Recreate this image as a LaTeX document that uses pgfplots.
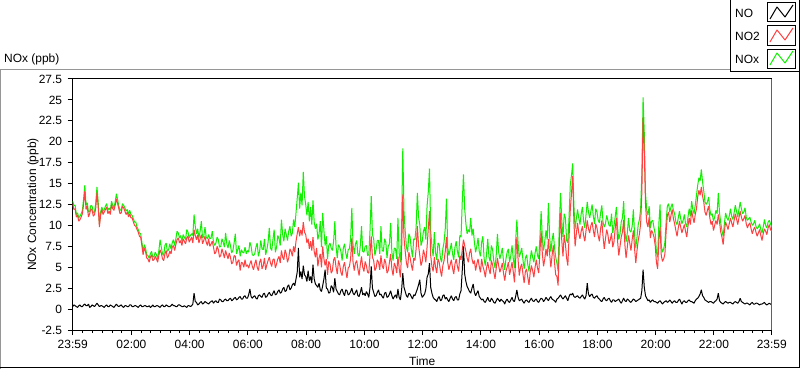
\documentclass[border=0pt]{standalone}
\usepackage{fontspec}
\setmainfont{Liberation Sans}
\usepackage{pgfplots}
\pgfplotsset{compat=1.18}
\usepackage{pgfplotstable}
\definecolor{nored}{RGB}{255,64,64}
\definecolor{nogreen}{RGB}{16,240,0}
\definecolor{framegray}{RGB}{150,150,150}
\pgfplotstableread{
t no no2 nox
-1 0.3 12.6 12.9
1.5 0.5 11.9 12.4
4 0.4 12.0 12.4
6.5 0.3 11.0 11.3
9 0.2 11.2 11.5
11.5 0.4 10.5 10.9
14 0.5 10.7 11.1
16.5 0.3 11.0 11.4
19 0.3 11.4 11.8
21.5 0.5 12.6 13.2
24 0.6 14.1 14.8
26.5 0.4 11.9 12.4
29 0.4 12.3 12.7
31.5 0.6 11.0 11.6
34 0.2 11.4 11.7
36.5 0.3 12.0 12.4
39 0.5 11.8 12.3
41.5 0.4 11.1 11.5
44 0.3 11.3 11.6
46.5 0.5 12.1 12.7
49 0.7 13.9 14.6
51.5 0.5 12.2 12.8
54 0.3 9.8 10.2
56.5 0.4 11.2 11.6
59 0.4 11.9 12.2
61.5 0.3 11.3 11.7
64 0.2 11.6 11.9
66.5 0.4 11.9 12.3
69 0.5 12.2 12.6
71.5 0.3 11.4 11.8
74 0.3 11.7 12.1
76.5 0.5 11.3 11.8
79 0.4 12.5 12.9
81.5 0.3 12.0 12.4
84 0.2 11.8 12.1
86.5 0.4 12.4 12.8
89 0.6 13.2 13.8
91.5 0.4 12.6 13.1
94 0.3 12.0 12.3
96.5 0.4 11.4 11.8
99 0.5 11.5 11.9
101.5 0.3 12.3 12.6
104 0.2 12.1 12.4
106.5 0.4 11.7 12.1
109 0.4 11.3 11.7
111.5 0.3 11.6 11.9
114 0.3 11.0 11.3
116.5 0.5 11.4 11.8
119 0.5 10.9 11.3
121.5 0.3 10.9 11.2
124 0.3 10.4 10.8
126.5 0.4 10.0 10.4
129 0.4 9.9 10.4
131.5 0.3 9.5 9.8
134 0.2 9.2 9.5
136.5 0.4 8.7 9.1
139 0.5 8.6 9.0
141.5 0.3 7.6 8.0
144 0.3 6.5 6.9
146.5 0.4 7.3 7.7
149 0.4 6.9 7.3
151.5 0.3 6.1 6.5
154 0.3 6.0 6.4
156.5 0.4 5.6 6.1
159 0.2 6.2 6.6
161.5 0.3 6.5 6.9
164 0.5 5.8 6.2
166.5 0.3 5.9 6.3
169 0.3 6.3 6.8
171.5 0.4 6.0 6.5
174 0.4 5.6 6.0
176.5 0.3 6.4 7.0
179 0.2 7.1 8.3
181.5 0.4 6.7 7.4
184 0.5 6.0 6.6
186.5 0.3 5.8 6.4
189 0.3 6.6 7.6
191.5 0.5 7.0 7.9
194 0.4 6.1 6.9
196.5 0.3 6.4 7.1
199 0.3 6.9 7.8
201.5 0.4 6.6 7.2
204 0.6 7.4 7.9
206.5 0.4 7.6 8.3
209 0.4 7.0 7.6
211.5 0.3 7.7 8.4
214 0.3 8.3 9.3
216.5 0.5 8.5 9.1
219 0.5 7.9 8.5
221.5 0.4 8.2 8.8
224 0.3 7.6 8.1
226.5 0.3 8.4 8.9
229 0.4 8.1 8.6
231.5 0.3 7.8 8.3
234 0.2 8.5 9.5
236.5 0.4 8.7 9.2
239 0.4 8.0 8.5
241.5 0.3 8.3 8.8
244 0.4 8.6 9.0
246.5 0.6 7.9 8.8
249 1.9 9.5 11.3
251.5 0.9 8.8 9.9
254 0.8 8.3 9.0
256.5 0.5 8.9 9.6
259 0.6 7.9 8.5
261.5 0.8 8.4 9.3
264 0.9 8.9 10.5
266.5 0.6 7.8 8.5
269 0.7 8.2 8.7
271.5 0.9 8.7 9.8
274 0.8 8.0 8.6
276.5 0.7 7.6 8.4
279 0.6 8.4 8.9
281.5 0.8 7.5 8.4
284 0.9 7.8 8.5
286.5 1.0 8.1 9.3
289 0.7 7.4 8.0
291.5 0.9 6.6 7.6
294 1.0 6.8 7.9
296.5 0.8 7.5 8.6
299 0.8 7.1 8.3
301.5 1.2 6.2 7.4
304 1.1 6.4 7.5
306.5 0.9 7.2 8.4
309 0.9 6.7 8.0
311.5 1.1 6.1 7.4
314 1.2 7.0 9.1
316.5 1.0 6.5 7.8
319 1.0 6.0 7.3
321.5 1.2 6.7 8.2
324 1.3 6.2 7.6
326.5 1.0 5.4 6.7
329 1.1 5.6 7.0
331.5 1.3 6.4 7.9
334 1.4 6.3 9.0
336.5 1.1 5.2 6.6
339 1.2 5.7 7.1
341.5 1.4 5.9 7.6
344 1.5 4.6 6.3
346.5 1.2 5.6 7.1
349 1.2 5.5 6.8
351.5 1.5 5.0 6.7
354 1.6 5.9 7.4
356.5 1.3 5.1 6.6
359 1.3 5.3 7.0
361.5 1.7 4.9 6.8
364 2.4 5.4 8.0
366.5 1.5 5.8 7.5
369 1.3 5.1 6.5
371.5 1.5 4.7 6.4
374 1.6 5.4 6.6
376.5 1.3 5.9 7.4
379 1.2 5.0 7.9
381.5 1.6 4.6 6.3
384 1.7 5.6 6.9
386.5 1.5 6.0 8.2
389 1.4 4.8 7.2
391.5 1.8 5.2 7.1
394 1.9 6.1 8.4
396.5 1.4 4.7 6.5
399 1.5 5.3 7.1
401.5 1.8 5.8 8.0
404 2.0 6.2 9.7
406.5 1.7 5.5 7.3
409 1.6 5.1 7.0
411.5 1.9 5.9 8.3
414 2.2 6.0 9.5
416.5 1.7 4.9 6.8
419 1.8 5.4 7.4
421.5 2.1 6.0 8.8
424 2.3 6.3 8.4
426.5 1.9 5.5 7.6
429 2.0 7.0 10.7
431.5 2.4 6.2 8.9
434 2.6 5.9 8.1
436.5 2.1 7.1 9.6
439 2.2 6.6 8.9
441.5 2.7 5.6 8.2
444 2.9 6.1 9.3
446.5 2.3 7.2 9.9
449 2.5 6.9 8.7
451.5 2.9 6.3 9.1
454 3.1 7.5 10.7
456.5 2.8 6.8 9.8
459 3.6 8.1 11.5
461.5 4.4 9.0 13.2
464 7.3 9.8 15.1
466.5 3.8 8.7 12.0
469 4.5 9.5 13.9
471.5 3.6 8.8 12.4
474 5.2 10.4 16.4
476.5 4.1 9.2 13.5
479 3.9 8.9 12.5
481.5 3.3 7.9 11.2
484 4.6 8.4 12.8
486.5 3.4 7.2 10.5
489 3.9 8.1 12.2
491.5 3.1 7.0 10.1
494 5.3 8.6 13.0
496.5 3.6 6.9 10.4
499 3.0 6.2 9.6
501.5 2.8 7.3 10.2
504 2.6 5.1 8.3
506.5 3.1 6.1 9.0
509 2.3 6.6 10.5
511.5 2.1 5.0 7.4
514 2.8 7.5 11.5
516.5 3.6 6.0 9.4
519 4.7 5.2 7.6
521.5 2.5 6.0 8.7
524 2.4 4.1 6.0
526.5 1.9 5.7 7.6
529 2.0 5.4 7.9
531.5 2.8 4.3 7.3
534 2.6 4.6 7.0
536.5 2.0 5.9 8.1
539 3.7 6.2 10.5
541.5 2.4 5.0 7.5
544 2.1 4.2 6.1
546.5 1.8 5.8 7.7
549 1.7 5.3 7.4
551.5 2.2 4.4 6.9
554 2.4 4.0 5.8
556.5 1.9 5.1 7.3
559 1.6 5.6 7.8
561.5 2.3 4.6 6.7
564 2.2 3.7 6.0
566.5 1.7 4.9 7.1
569 1.8 5.1 7.2
571.5 2.1 6.0 8.4
574 2.5 8.5 12.1
576.5 1.9 5.6 7.7
579 1.7 4.6 6.6
581.5 2.0 5.5 7.8
584 2.3 5.8 8.2
586.5 1.6 4.8 6.5
589 1.5 4.0 6.3
591.5 2.0 5.3 7.6
594 2.6 6.3 9.9
596.5 1.7 5.0 6.9
599 1.9 4.5 6.8
601.5 1.6 5.7 7.5
604 2.1 5.2 7.6
606.5 1.8 4.4 6.4
609 1.4 4.3 6.5
611.5 2.6 6.5 9.4
614 5.1 8.7 13.5
616.5 2.5 6.2 8.9
619 2.0 5.8 8.4
621.5 1.5 4.6 6.4
624 1.6 4.9 7.1
626.5 2.0 5.9 8.2
629 2.3 5.6 8.2
631.5 1.7 4.7 6.6
634 1.8 6.4 9.9
636.5 1.5 5.2 7.0
639 1.3 4.8 6.9
641.5 1.9 6.0 8.4
644 2.0 5.5 8.0
646.5 1.4 4.3 6.1
649 1.5 4.6 7.5
651.5 1.8 5.6 7.8
654 2.2 6.6 10.3
656.5 1.6 4.8 6.8
659 1.2 4.0 5.8
661.5 1.5 5.5 7.3
664 1.7 5.1 7.2
666.5 1.3 4.3 6.0
669 2.4 6.3 10.9
671.5 1.4 4.9 6.7
674 1.1 3.8 5.6
676.5 2.2 6.6 9.4
679 4.3 13.7 19.2
681.5 2.6 8.5 11.6
684 2.1 6.9 9.3
686.5 1.6 5.5 7.4
689 1.4 4.9 6.8
691.5 1.9 6.8 9.0
694 1.8 6.2 8.6
696.5 1.5 5.3 7.2
699 1.2 4.6 6.2
701.5 1.7 6.1 8.4
704 1.6 5.8 8.3
706.5 2.0 7.2 9.8
709 2.4 9.9 13.9
711.5 2.9 7.6 11.0
714 3.5 6.4 10.1
716.5 1.9 5.2 7.6
719 1.4 5.7 8.1
721.5 1.6 7.1 9.3
724 1.8 6.5 9.8
726.5 2.4 5.6 8.3
729 3.8 7.4 12.3
731.5 4.2 9.6 14.0
734 5.5 11.7 16.8
736.5 2.6 6.4 9.4
739 1.9 5.1 7.5
741.5 1.4 4.5 6.3
744 1.2 6.2 9.2
746.5 1.1 5.0 6.7
749 0.9 4.3 5.9
751.5 1.3 6.0 7.9
754 1.5 5.6 7.7
756.5 1.0 4.6 6.1
759 1.1 3.9 5.6
761.5 1.6 5.2 7.2
764 1.7 5.8 8.0
766.5 1.2 6.9 9.6
769 1.4 8.6 13.2
771.5 1.1 5.6 7.4
774 0.9 4.7 6.4
776.5 1.3 5.3 7.1
779 1.6 5.9 7.9
781.5 1.2 4.9 6.6
784 1.0 4.2 5.9
786.5 1.4 5.4 7.4
789 1.5 6.0 8.1
791.5 1.1 5.1 6.9
794 1.1 4.5 6.2
796.5 1.8 6.4 8.8
799 2.2 5.9 8.6
801.5 4.6 7.1 12.8
804 7.5 8.3 16.1
806.5 4.2 7.6 12.0
809 3.3 6.9 10.2
811.5 2.7 6.1 9.0
814 2.4 5.6 9.5
816.5 2.1 6.7 9.2
819 1.9 7.2 10.9
821.5 2.5 6.0 8.8
824 3.0 5.4 9.6
826.5 2.0 5.8 8.0
829 1.6 4.6 6.8
831.5 1.9 5.4 7.5
834 2.2 6.0 8.5
836.5 1.5 5.1 6.9
839 1.3 4.4 6.3
841.5 1.1 6.0 8.0
844 1.2 5.1 8.7
846.5 0.9 4.6 6.0
849 0.8 3.8 5.2
851.5 1.1 4.9 6.5
854 1.4 5.6 8.4
856.5 1.0 4.8 6.2
859 0.9 4.2 5.7
861.5 1.3 5.8 7.6
864 1.1 5.3 7.1
866.5 0.8 4.4 5.7
869 0.7 3.6 4.9
871.5 1.0 4.9 6.5
874 1.3 6.1 9.0
876.5 1.1 5.2 6.8
879 0.9 4.4 6.0
881.5 1.2 4.9 6.6
884 1.0 5.5 7.3
886.5 0.9 4.3 5.7
889 0.6 3.4 4.7
891.5 1.0 4.5 6.0
894 1.2 5.0 6.8
896.5 0.9 5.6 7.2
899 0.8 4.1 5.6
901.5 1.1 4.8 6.4
904 1.4 5.6 7.6
906.5 1.0 4.5 6.1
909 0.9 3.2 4.9
911.5 1.5 5.8 8.2
914 2.3 8.6 10.7
916.5 1.4 5.9 7.9
919 1.0 4.0 6.2
921.5 1.1 5.0 6.7
924 1.2 5.4 7.3
926.5 0.9 4.2 5.9
929 0.7 3.1 4.8
931.5 1.0 4.5 6.1
934 1.1 4.8 6.5
936.5 0.9 3.8 5.3
939 0.8 2.9 4.5
941.5 1.1 4.4 6.0
944 1.3 5.2 7.0
946.5 1.0 4.6 6.2
949 0.9 3.8 5.6
951.5 1.1 5.0 6.7
954 1.2 5.9 7.5
956.5 0.9 4.9 6.4
959 0.8 4.3 6.0
961.5 1.1 6.8 8.6
964 1.3 9.3 11.7
966.5 1.2 6.6 8.4
969 0.9 5.1 7.0
971.5 1.1 6.0 8.1
974 1.4 7.2 9.4
976.5 1.2 6.3 8.3
979 1.0 8.4 12.7
981.5 1.3 6.6 8.7
984 1.5 5.0 6.8
986.5 1.2 6.4 8.2
989 1.1 7.6 9.1
991.5 1.0 5.6 7.4
994 0.8 4.1 6.2
996.5 1.2 3.9 5.5
999 1.3 2.8 4.5
1001.5 1.5 7.9 10.2
1004 1.7 11.5 13.9
1006.5 1.4 8.2 10.6
1009 1.2 6.3 8.6
1011.5 1.4 8.9 11.4
1014 1.6 7.8 10.9
1016.5 1.3 6.1 8.2
1019 1.0 5.2 7.9
1021.5 1.5 8.6 11.0
1024 1.8 11.8 14.8
1026.5 1.7 13.8 16.0
1029 1.9 15.9 17.4
1031.5 1.5 10.4 12.3
1034 1.4 7.5 9.6
1036.5 1.5 9.0 10.8
1039 1.6 10.3 11.9
1041.5 1.4 9.1 10.9
1044 1.3 8.4 10.1
1046.5 1.5 9.3 11.4
1049 1.7 9.9 12.2
1051.5 1.4 8.8 10.5
1054 1.2 8.1 9.7
1056.5 1.6 9.4 11.3
1059 3.1 10.6 12.8
1061.5 1.8 9.6 11.6
1064 1.5 9.1 10.9
1066.5 1.7 10.0 11.7
1069 1.8 10.4 12.5
1071.5 1.4 9.4 11.1
1074 1.3 8.6 10.2
1076.5 1.5 10.2 12.0
1079 1.6 9.7 11.6
1081.5 1.3 8.8 10.6
1084 1.2 8.1 10.3
1086.5 1.0 9.6 11.5
1089 0.9 10.6 12.4
1091.5 1.2 8.7 10.4
1094 1.4 7.2 9.8
1096.5 1.1 8.4 10.2
1099 1.0 9.5 11.2
1101.5 1.2 8.9 10.6
1104 1.3 7.8 10.0
1106.5 1.0 8.3 9.9
1109 0.8 9.1 11.4
1111.5 1.1 7.4 9.1
1114 1.1 8.0 9.9
1116.5 0.9 9.6 11.0
1119 1.0 10.9 12.2
1121.5 1.1 8.1 9.7
1124 1.2 6.4 8.3
1126.5 0.9 7.5 9.0
1129 0.7 8.6 10.4
1131.5 1.0 9.2 10.9
1134 1.3 10.7 12.9
1136.5 1.0 7.7 9.4
1139 0.9 6.1 8.0
1141.5 1.2 7.4 9.1
1144 1.1 8.8 10.9
1146.5 0.9 7.9 9.4
1149 0.8 7.0 9.2
1151.5 1.0 8.3 9.9
1154 1.2 9.4 11.9
1156.5 1.1 7.2 8.9
1159 0.9 5.5 7.3
1161.5 1.0 7.0 8.6
1164 1.1 8.2 10.1
1166.5 1.2 9.0 10.7
1169 1.3 10.2 12.0
1171.5 2.2 14.0 16.3
1174 4.7 22.9 25.3
1176.5 2.6 18.8 21.0
1179 1.6 12.5 13.8
1181.5 1.3 10.4 11.9
1184 1.0 9.8 11.2
1186.5 1.1 11.0 12.3
1189 0.8 8.5 9.7
1191.5 1.0 9.4 10.5
1194 1.1 9.1 10.6
1196.5 0.9 8.6 9.7
1199 0.9 7.6 9.0
1201.5 0.8 5.6 6.8
1204 0.7 4.8 6.2
1206.5 0.9 8.2 10.2
1209 1.0 9.8 12.5
1211.5 0.8 6.4 7.6
1214 0.6 5.7 6.8
1216.5 0.8 6.0 7.2
1219 0.9 6.6 8.0
1221.5 1.0 9.3 10.5
1224 0.8 11.2 12.3
1226.5 0.9 11.6 12.6
1229 1.1 10.4 11.6
1231.5 0.9 11.2 12.2
1234 0.7 11.9 12.6
1236.5 0.9 10.8 11.8
1239 1.0 10.2 11.4
1241.5 0.8 9.4 10.4
1244 0.8 8.7 10.1
1246.5 1.0 9.7 10.9
1249 1.2 10.5 11.7
1251.5 0.9 9.8 10.8
1254 0.6 9.1 10.2
1256.5 0.9 9.6 10.6
1259 1.0 10.1 11.3
1261.5 0.8 9.3 10.2
1264 0.8 8.6 9.8
1266.5 1.0 9.9 11.0
1269 1.1 10.9 12.0
1271.5 0.9 10.1 11.1
1274 0.9 11.8 12.9
1276.5 0.8 11.0 11.9
1279 0.7 10.3 11.4
1281.5 1.0 11.3 12.4
1284 1.2 12.0 13.6
1286.5 1.3 13.4 14.8
1289 1.5 14.2 15.7
1291.5 1.8 13.6 15.3
1294 2.3 14.6 16.7
1296.5 1.6 13.5 15.2
1299 1.4 12.8 14.1
1301.5 1.1 11.6 12.8
1304 1.0 11.2 12.5
1306.5 0.9 11.8 12.8
1309 0.8 12.3 13.4
1311.5 0.9 10.9 11.9
1314 0.9 10.1 11.2
1316.5 0.8 10.5 11.4
1319 0.7 9.4 10.5
1321.5 0.9 10.0 11.0
1324 1.0 10.6 11.8
1326.5 1.2 10.1 11.4
1329 1.9 11.3 13.9
1331.5 1.0 10.4 11.5
1334 0.8 9.2 10.3
1336.5 0.7 8.6 9.4
1339 0.6 7.7 8.7
1341.5 0.8 9.3 10.2
1344 0.9 10.4 11.5
1346.5 0.8 10.0 10.9
1349 0.7 9.5 10.6
1351.5 0.8 10.2 11.1
1354 0.8 10.9 12.0
1356.5 0.7 10.3 11.1
1359 0.6 9.8 10.7
1361.5 0.8 10.6 11.5
1364 0.9 11.4 12.4
1366.5 0.8 10.8 11.7
1369 0.7 10.1 11.0
1371.5 0.9 10.9 11.9
1374 1.3 11.7 12.8
1376.5 0.9 11.0 12.0
1379 0.8 10.5 11.4
1381.5 0.7 10.8 11.6
1384 0.6 11.2 12.1
1386.5 0.7 10.2 11.0
1389 0.7 9.7 10.6
1391.5 0.6 10.1 10.8
1394 0.5 10.3 11.0
1396.5 0.7 9.6 10.4
1399 0.8 9.0 10.0
1401.5 0.6 9.5 10.2
1404 0.6 9.8 10.6
1406.5 0.7 9.2 9.9
1409 0.7 8.7 9.6
1411.5 0.6 9.1 9.8
1414 0.5 9.5 10.2
1416.5 0.6 8.8 9.5
1419 0.6 8.2 9.1
1421.5 0.7 9.0 9.8
1424 0.8 9.6 10.7
1426.5 0.6 9.3 10.0
1429 0.5 8.9 9.7
1431.5 0.6 9.7 10.4
1434 0.7 10.1 10.6
1436.5 0.6 9.5 10.2
1439 0.5 9.3 9.8
}\data

\newcommand{\lfont}{\fontsize{12}{14}\selectfont}

\begin{document}
\begin{tikzpicture}[x=1bp,y=1bp]
\useasboundingbox (0,0) rectangle (800,369);
\fill[white] (0,0) rectangle (800,369);
% outer panel frame
\draw[framegray, line width=1bp] (0.5,0) -- (0.5,299.5) -- (730,299.5);
\draw[black, line width=1bp] (0,1.5) -- (799.5,1.5) -- (799.5,297);
\node[anchor=west, inner sep=0, font=\lfont] at (4,310) {NOx (ppb)};

\begin{axis}[
  at={(72.7bp,39bp)}, anchor=south west,
  scale only axis, width=699bp, height=251bp,
  xmin=-1, xmax=1439, ymin=-2.5, ymax=27.5,
  xtick={-1,120,240,360,480,600,720,840,960,1080,1200,1320,1439},
  xticklabels={23:59,02:00,04:00,06:00,08:00,10:00,12:00,14:00,16:00,18:00,20:00,22:00,23:59},
  minor xtick={20,40,...,1420},
  ytick={-2.5,0,2.5,5,7.5,10,12.5,15,17.5,20,22.5,25,27.5},
  yticklabels={-2.5,0,2.5,5,7.5,10,12.5,15,17.5,20,22.5,25,27.5},
  tick align=outside,
  xtick pos=bottom, ytick pos=left,
  major tick length=5bp, minor tick length=3bp,
  every tick/.style={black, line width=1bp},
  axis line style={black, line width=1bp},
  tick label style={font=\lfont},
  xticklabel style={anchor=center, yshift=-9.5bp},
  yticklabel style={anchor=east, inner sep=0pt, xshift=-5.4bp},
  xlabel={Time}, ylabel={NOx Concentration (ppb)},
  every axis x label/.style={at={(axis description cs:0.5,-0.125)}, anchor=center, font=\lfont},
  every axis y label/.style={at={(axis description cs:-0.0568,0.5)}, rotate=90, anchor=center, font=\lfont},
  clip=true,
]
\addplot[nogreen, line width=1bp, line join=bevel] table[x=t, y=nox] {\data};
\addplot[nored, line width=1bp, line join=bevel] table[x=t, y=no2] {\data};
\addplot[black, line width=1bp, line join=bevel] table[x=t, y=no] {\data};
\draw[framegray, line width=1bp] (rel axis cs:1,0) -- (rel axis cs:1,1);
\end{axis}

% legend
\fill[white] (730,297) rectangle (799.5,369);
\draw[black, line width=1bp] (730.5,369) -- (730.5,297.5) -- (799.5,297.5) -- (799.5,369);
\node[anchor=west, inner sep=0, font=\lfont] at (735,356) {NO};
\node[anchor=west, inner sep=0, font=\lfont] at (735,333) {NO2};
\node[anchor=west, inner sep=0, font=\lfont] at (735,310) {NOx};
\foreach \yb/\col in {347/black, 324/nored, 301/nogreen} {
  \draw[black, line width=1bp, fill=white] (767.5,\yb) rectangle (795.5,\yb+19);
  \draw[\col, line width=1bp, line join=bevel] (770,\yb+3) -- (777,\yb+15) -- (785,\yb+5) -- (793,\yb+17);
}
\end{tikzpicture}
\end{document}
